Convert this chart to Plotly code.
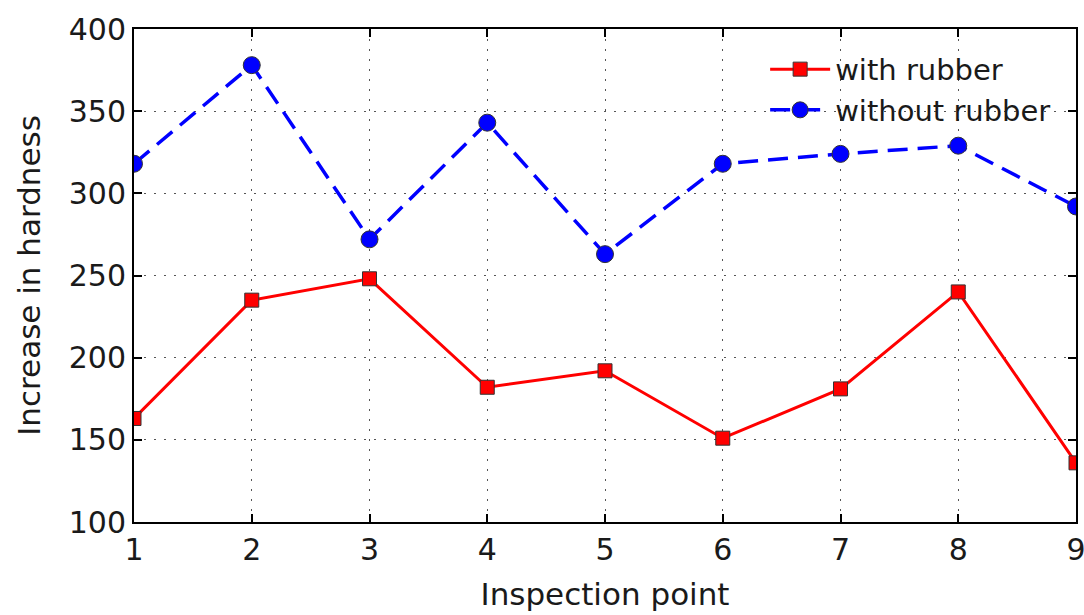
import plotly.graph_objects as go

points = [1, 2, 3, 4, 5, 6, 7, 8, 9]
with_rubber = [163, 235, 248, 182, 192, 151, 181, 240, 136]
without_rubber = [318, 378, 272, 343, 263, 318, 324, 329, 292]

font_family = "DejaVu Sans"

fig = go.Figure()
fig.add_trace(go.Scatter(
    x=points, y=with_rubber, name="with rubber", mode="lines+markers",
    line=dict(color="#ff0000", width=3),
    marker=dict(symbol="square", size=14, color="#ff0000", line=dict(color="#333333", width=1)),
))
fig.add_trace(go.Scatter(
    x=points, y=without_rubber, name="without rubber", mode="lines+markers",
    line=dict(color="#0000ff", width=3.5, dash="20px,10px"),
    marker=dict(symbol="circle", size=17, color="#0000ff", line=dict(color="#333333", width=1)),
))

axis_common = dict(
    showline=True, linecolor="black", linewidth=2, mirror="ticks",
    ticks="inside", ticklen=8, tickwidth=1.5, tickcolor="black",
    showgrid=True, gridcolor="#555555", griddash="2px,8px", gridwidth=1,
    zeroline=False, automargin=False, ticklabeloverflow="allow",
    tickfont=dict(family=font_family, size=30, color="#1a1a1a"),
)

fig.update_xaxes(
    range=[1, 9], tickvals=points,
    title=dict(text="Inspection point", font=dict(family=font_family, size=31, color="#1a1a1a"), standoff=17),
    **axis_common,
)
fig.update_yaxes(
    range=[100, 400], tickvals=[100, 150, 200, 250, 300, 350, 400],
    title=dict(text="Increase in hardness", font=dict(family=font_family, size=31, color="#1a1a1a"), standoff=19),
    **axis_common,
)

fig.update_layout(
    width=1084, height=615,
    margin=dict(l=134, r=8, t=29, b=93),
    plot_bgcolor="white", paper_bgcolor="white",
    font=dict(family=font_family, color="#1a1a1a"),
    legend=dict(
        x=0.67, y=0.97, xanchor="left", yanchor="top",
        bgcolor="rgba(255,255,255,0)", borderwidth=0,
        font=dict(family=font_family, size=29, color="#1a1a1a"),
        itemwidth=60, tracegroupgap=0,
    ),
    showlegend=True,
)

fig.write_html("out.html")
